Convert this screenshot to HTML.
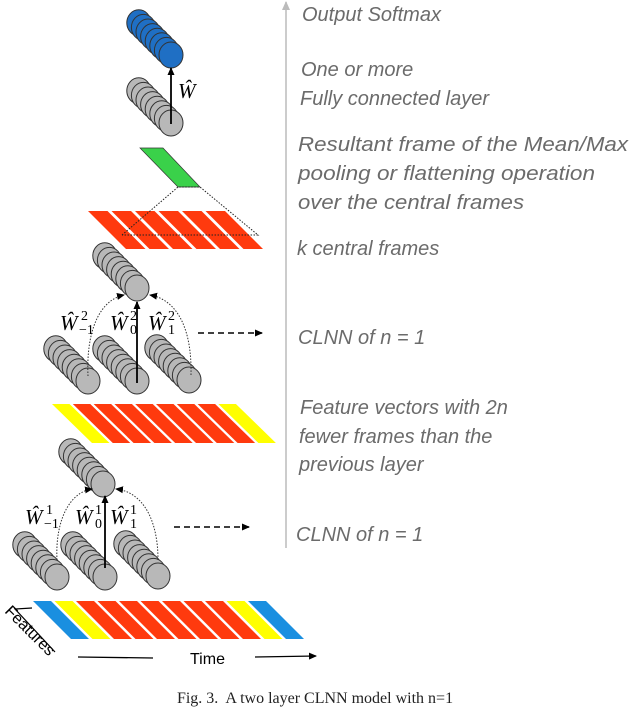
<!DOCTYPE html>
<html><head><meta charset="utf-8"><style>
html,body{margin:0;padding:0;background:#fff;}
svg{display:block;}
.t{font-family:"Liberation Sans",sans-serif;font-style:italic;font-size:20px;fill:#6b6b6b;}
.w{font-family:"Liberation Serif",serif;font-style:italic;font-size:21px;fill:#000;}
.s{font-family:"Liberation Serif",serif;font-size:14px;fill:#000;}
</style></head><body>
<svg id="g" width="630" height="712" viewBox="0 0 630 712" xmlns="http://www.w3.org/2000/svg">
<defs>
<marker id="ah" markerWidth="8" markerHeight="8" refX="7" refY="4" orient="auto" markerUnits="userSpaceOnUse"><path d="M0,0.5 L8,4 L0,7.5 z" fill="#000"/></marker>
<marker id="ga" markerWidth="10" markerHeight="10" refX="5" refY="1" orient="0" markerUnits="userSpaceOnUse"><path d="M1,9 L5,0 L9,9 z" fill="#bbb"/></marker>
</defs>
<g id="bands"></g>
<g id="stacks"></g>
<polygon points="140,148 163,148 200,187 178,187" fill="#3ad14a" stroke="#333" stroke-width="0.7"/>
<polyline points="122,235 178,187 200,187 258,235 122,235" fill="none" stroke="#222" stroke-width="1" stroke-dasharray="1.5,1.5"/>
<line x1="171" y1="124" x2="171" y2="68" stroke="#000" stroke-width="1.8" marker-end="url(#ah)"/>
<line x1="137" y1="383" x2="137" y2="302" stroke="#000" stroke-width="1.8" marker-end="url(#ah)"/>
<path d="M88,376 C86,330 100,300 124,295" fill="none" stroke="#333" stroke-width="1" stroke-dasharray="1.5,1.5" marker-end="url(#ah)"/>
<path d="M191,375 C192,330 178,300 150,295" fill="none" stroke="#333" stroke-width="1" stroke-dasharray="1.5,1.5" marker-end="url(#ah)"/>
<line x1="105" y1="568" x2="105" y2="496" stroke="#000" stroke-width="1.8" marker-end="url(#ah)"/>
<path d="M57,560 C55,520 70,492 92,489" fill="none" stroke="#333" stroke-width="1" stroke-dasharray="1.5,1.5" marker-end="url(#ah)"/>
<path d="M158,560 C158,520 143,492 116,489" fill="none" stroke="#333" stroke-width="1" stroke-dasharray="1.5,1.5" marker-end="url(#ah)"/>
<line x1="198" y1="333" x2="262" y2="333" stroke="#000" stroke-width="1.6" stroke-dasharray="6,4" marker-end="url(#ah)"/>
<line x1="174" y1="527" x2="249" y2="527" stroke="#000" stroke-width="1.6" stroke-dasharray="6,4" marker-end="url(#ah)"/>
<text class="w" x="178" y="98">Ŵ</text>
<text class="w" x="60" y="330">Ŵ</text><text class="s" x="81" y="320">2</text><text class="s" x="79" y="334">−1</text>
<text class="w" x="110" y="330">Ŵ</text><text class="s" x="130" y="320">2</text><text class="s" x="130" y="334">0</text>
<text class="w" x="148" y="330">Ŵ</text><text class="s" x="168" y="320">2</text><text class="s" x="168" y="334">1</text>
<text class="w" x="25" y="524">Ŵ</text><text class="s" x="46" y="514">1</text><text class="s" x="44" y="528">−1</text>
<text class="w" x="75" y="524">Ŵ</text><text class="s" x="95" y="514">1</text><text class="s" x="95" y="528">0</text>
<text class="w" x="110" y="524">Ŵ</text><text class="s" x="130" y="514">1</text><text class="s" x="130" y="528">1</text>
<line x1="286" y1="548" x2="286" y2="2" stroke="#bbb" stroke-width="1.5" marker-end="url(#ga)"/>
<text class="t" x="302" y="21">Output Softmax</text>
<text class="t" x="301" y="76">One or more</text>
<text class="t" x="300" y="105">Fully connected layer</text>
<text class="t" x="298" y="151" textLength="330" lengthAdjust="spacingAndGlyphs">Resultant frame of the Mean/Max</text>
<text class="t" x="298" y="180" textLength="297" lengthAdjust="spacingAndGlyphs">pooling or flattening operation</text>
<text class="t" x="298" y="209" textLength="226" lengthAdjust="spacingAndGlyphs">over the central frames</text>
<text class="t" x="297" y="255">k central frames</text>
<text class="t" x="298" y="344">CLNN of n = 1</text>
<text class="t" x="300" y="414">Feature vectors with 2n</text>
<text class="t" x="299" y="443">fewer frames than the</text>
<text class="t" x="299" y="471">previous layer</text>
<text class="t" x="296" y="541">CLNN of n = 1</text>
<text x="0" y="0" transform="translate(4,612) rotate(45)" style="font-family:'Liberation Sans',sans-serif;font-size:16px;fill:#000">Features</text>
<path d="M32,608 L15,609 L55,652" fill="none" stroke="#000" stroke-width="1.2"/>
<line x1="78" y1="657" x2="153" y2="658" stroke="#000" stroke-width="1.3"/>
<text x="190" y="664" style="font-family:'Liberation Sans',sans-serif;font-size:16px;fill:#000">Time</text>
<line x1="255" y1="657" x2="316" y2="656" stroke="#000" stroke-width="1.3" marker-end="url(#ah)"/>
<text x="315" y="703" text-anchor="middle" style="font-family:'Liberation Serif',serif;font-size:16px;fill:#222">Fig. 3.&#160; A two layer CLNN model with n=1</text>
</svg>
<script>
var NS="http://www.w3.org/2000/svg";
function el(p,n,a){var e=document.createElementNS(NS,n);for(var k in a)e.setAttribute(k,a[k]);p.appendChild(e);return e;}
var B=document.getElementById("bands");
function band(x0,y0,h,skew,w,pitch,cols){cols.forEach(function(c,i){var x=x0+i*pitch;
el(B,"polygon",{points:x+","+y0+" "+(x+w)+","+y0+" "+(x+w+skew)+","+(y0+h)+" "+(x+skew)+","+(y0+h),fill:c});});}
var R="#ff3a0e",Y="#ffff00",BL="#1a8fe0";
band(88,211,38,38,19.5,23.5,[R,R,R,R,R,R]);
band(52,404,39,40,17.5,20.8,[Y,R,R,R,R,R,R,R,Y]);
band(33,601,38,38,18,21.5,[BL,Y,R,R,R,R,R,R,R,Y,BL]);
var S=document.getElementById("stacks");
function stack(cx,cy,col,r){r=r||12;for(var i=7;i>=0;i--){el(S,"ellipse",{cx:cx-i*4.6,cy:cy-i*4.6,rx:r,ry:r+1,fill:col,stroke:"#333","stroke-width":1});}}
stack(171,55,"#1f6fc4",12);
stack(171,123,"#b8b8b8");
stack(137,288,"#b8b8b8");
stack(88,381,"#b8b8b8");stack(137,381,"#b8b8b8");stack(189,380,"#b8b8b8");
stack(103,484,"#b8b8b8");
stack(57,577,"#b8b8b8");stack(105,577,"#b8b8b8");stack(158,576,"#b8b8b8");
</script>
</body></html>
